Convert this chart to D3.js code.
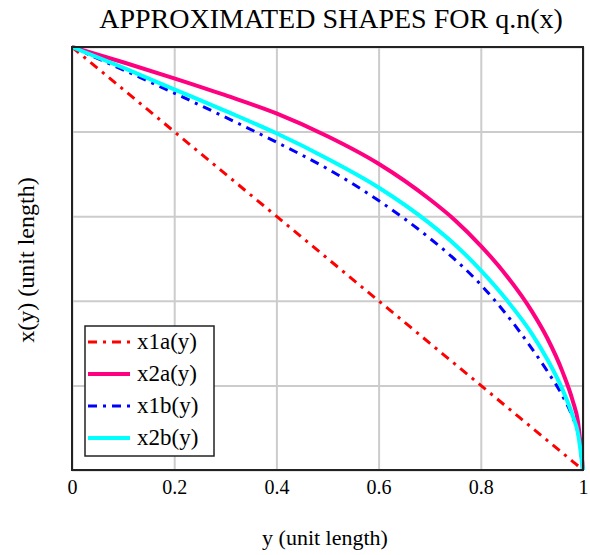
<!DOCTYPE html>
<html>
<head>
<meta charset="utf-8">
<script src="https://cdn.jsdelivr.net/npm/d3@7"></script>
<style>
  body { margin: 0; background: #fff; }
  svg { font-family: "Liberation Serif", "Times New Roman", serif; }
</style>
</head>
<body>
<div id="chart"></div>
<script>
// values
const yVals = [0, 0.1, 0.2, 0.3, 0.4, 0.5, 0.6, 0.7, 0.75, 0.8, 0.85, 0.9, 0.93, 0.96, 0.98, 0.99, 1];
const x1a = yVals.map(v => 1 - v);   // straight line
const x2a = [1, 0.964, 0.926, 0.886, 0.843, 0.789, 0.724, 0.640, 0.590, 0.530, 0.460, 0.375, 0.312, 0.232, 0.163, 0.115, 0];
const x1b = [1, 0.946, 0.891, 0.834, 0.775, 0.712, 0.637, 0.548, 0.497, 0.438, 0.368, 0.287, 0.234, 0.175, 0.124, 0.088, 0];
const x2b = [1, 0.951, 0.900, 0.849, 0.796, 0.736, 0.668, 0.583, 0.532, 0.472, 0.403, 0.322, 0.262, 0.190, 0.128, 0.088, 0];
const xTicks = [0, 0.2, 0.4, 0.6, 0.8, 1];
const yTicks = [0, 0.2, 0.4, 0.6, 0.8, 1];

const series = [
    {name: "x1a(y)", values: x1a, color: "#ff0000", width: 3, dash: "9,6,3,6"},
    {name: "x2a(y)", values: x2a, color: "#ff0080", width: 4, dash: null},
    {name: "x1b(y)", values: x1b, color: "#0000ff", width: 3, dash: "9,6,3,6"},
    {name: "x2b(y)", values: x2b, color: "#00ffff", width: 4, dash: null}
];

const width = 590, height = 555;
const mLeft = 72, mRight = 583, mTop = 47, mBottom = 470;

const svg = d3.select("#chart").append("svg")
    .attr("width", width)
    .attr("height", height);

const x = d3.scaleLinear().domain([0, 1]).range([mLeft, mRight]);
const y = d3.scaleLinear().domain([0, 1]).range([mBottom, mTop]);

// grid
svg.append("g")
    .attr("transform", `translate(0,${mBottom})`)
    .call(d3.axisBottom(x).tickValues(xTicks).tickSize(-(mBottom - mTop)).tickFormat(""))
    .call(g => g.select(".domain").remove())
    .selectAll("line").attr("stroke", "#cccccc").attr("stroke-width", 2);

svg.append("g")
    .attr("transform", `translate(${mLeft},0)`)
    .call(d3.axisLeft(y).tickValues(yTicks).tickSize(-(mRight - mLeft)).tickFormat(""))
    .call(g => g.select(".domain").remove())
    .selectAll("line").attr("stroke", "#cccccc").attr("stroke-width", 2);

// tick labels
svg.append("g")
    .attr("transform", `translate(0,${mBottom})`)
    .call(d3.axisBottom(x).tickValues(xTicks).tickSize(0).tickPadding(10)
        .tickFormat(d => d === 0 || d === 1 ? String(d) : d3.format(".1f")(d)))
    .call(g => g.select(".domain").remove())
    .selectAll("text")
    .attr("font-family", "Liberation Serif, serif")
    .attr("font-size", 20)
    .attr("fill", "#000");

// curves
const line = d3.line()
    .x((d, i) => x(yVals[i]))
    .y(d => y(d))
    .curve(d3.curveMonotoneX);

series.forEach(s => {
    svg.append("path")
        .datum(s.values)
        .attr("fill", "none")
        .attr("stroke", s.color)
        .attr("stroke-width", s.width)
        .attr("stroke-dasharray", s.dash)
        .attr("d", line);
});

// frame
svg.append("rect")
    .attr("x", mLeft).attr("y", mTop)
    .attr("width", mRight - mLeft).attr("height", mBottom - mTop)
    .attr("fill", "none")
    .attr("stroke", "#222")
    .attr("stroke-width", 2);

// legend
const lg = svg.append("g").attr("transform", "translate(85,326)");
lg.append("rect")
    .attr("width", 129).attr("height", 130)
    .attr("fill", "#fff")
    .attr("stroke", "#222")
    .attr("stroke-width", 1.5);

series.forEach((s, i) => {
    const row = lg.append("g").attr("transform", `translate(0,${16 + i * 32})`);
    row.append("line")
        .attr("x1", 3).attr("x2", 45)
        .attr("stroke", s.color)
        .attr("stroke-width", s.width)
        .attr("stroke-dasharray", s.dash);
    row.append("text")
        .attr("x", 52).attr("y", 7)
        .attr("font-size", 23)
        .text(s.name);
});

// titles
svg.append("text")
    .attr("x", 331).attr("y", 28)
    .attr("text-anchor", "middle")
    .attr("font-size", 28)
    .text("APPROXIMATED SHAPES FOR q.n(x)");

svg.append("text")
    .attr("x", 325).attr("y", 545)
    .attr("text-anchor", "middle")
    .attr("font-size", 22)
    .text("y (unit length)");

svg.append("text")
    .attr("transform", "translate(34,260) rotate(-90)")
    .attr("text-anchor", "middle")
    .attr("font-size", 24)
    .text("x(y) (unit length)");
</script>
</body>
</html>
